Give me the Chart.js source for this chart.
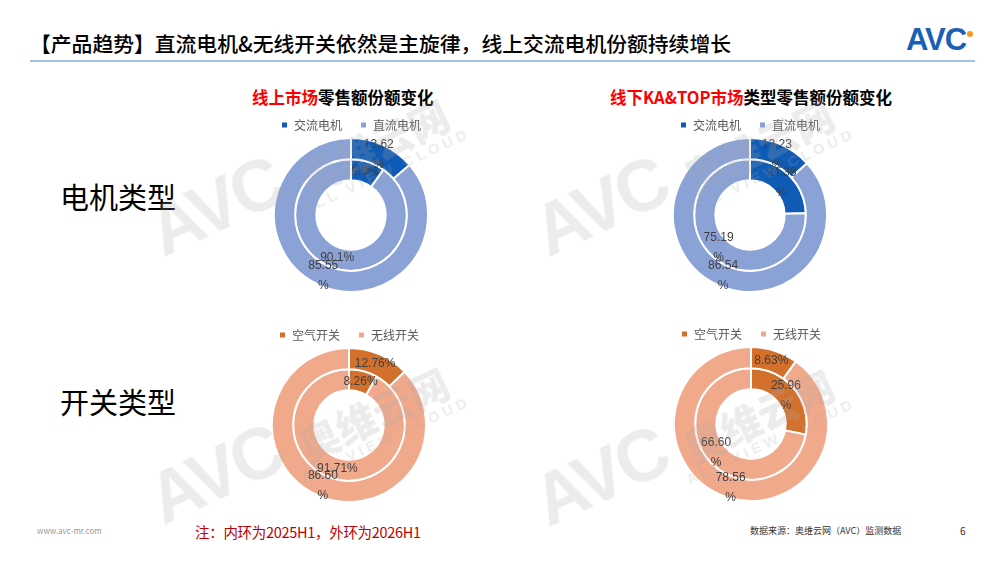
<!DOCTYPE html>
<html>
<head>
<meta charset="utf-8">
<script src="https://cdn.jsdelivr.net/npm/chart.js@4.4.1/dist/chart.umd.min.js"></script>
<style>
  html, body { margin: 0; padding: 0; background: #fff; }
  body { width: 1000px; height: 562px; position: relative; overflow: hidden;
         font-family: "Noto Sans CJK SC", "Noto Sans", sans-serif; }
  .abs { position: absolute; white-space: nowrap; }
  .title { left: 30px; top: 28px; font-size: 20.8px; font-weight: 500; color: #000; }
  .rule { left: 30px; top: 60px; width: 945px; height: 2px; background: #9dc3e6; }
  .logo { left: 906px; top: 22px; font-family: "Liberation Sans", sans-serif; font-size: 31px;
          font-weight: bold; color: #1a5fb4; letter-spacing: -1px; }
  .logo .dot { position: absolute; left: 61px; top: 9px; width: 6px; height: 6px; border-radius: 50%; background: #f39a1e; }
  .sub { font-size: 16.5px; font-weight: bold; color: #000; }
  .sub .red { color: #ff0000; }
  .side { font-size: 29px; color: #000; left: 60px; }
  .chart { position: absolute; }
  .note { left: 195px; top: 521px; font-size: 14.5px; color: #c00000; letter-spacing: -0.3px; }
  .src { left: 750px; top: 524px; font-size: 9px; color: #333; }
  .page { left: 960px; top: 523px; font-size: 10px; color: #333; }
  .web { left: 37px; top: 525px; font-size: 8px; color: #999; }
  .wm { position: absolute; transform: rotate(-25deg); transform-origin: left bottom; color: rgba(170,170,170,0.22);
        pointer-events: none; z-index: 5; white-space: nowrap; }
  .wm .avc { display: inline-block; font-family: "Liberation Sans", sans-serif; font-weight: bold; font-size: 72px;
             letter-spacing: -3px; vertical-align: middle; }
  .wm .side2 { display: inline-block; vertical-align: middle; margin-left: 8px; text-align: center;
               position: relative; top: 20px; }
  .wm .cn { font-size: 40px; font-weight: 900; line-height: 1; }
  .wm .en { font-family: "Liberation Sans", sans-serif; font-weight: bold; font-size: 15px; letter-spacing: 4px; }
</style>
</head>
<body>
<div class="abs title">【产品趋势】直流电机&amp;无线开关依然是主旋律，线上交流电机份额持续增长</div>
<div class="abs rule"></div>
<div class="abs logo">AVC<span class="dot"></span></div>

<div class="abs sub" style="left:252px; top:85px;"><span class="red">线上市场</span>零售额份额变化</div>
<div class="abs sub" style="left:610px; top:85px;"><span class="red">线下KA&amp;TOP市场</span>类型零售额份额变化</div>

<div class="abs side" style="top:175px;">电机类型</div>
<div class="abs side" style="top:380px;">开关类型</div>

<canvas id="c1" class="chart" width="240" height="192" style="left:231px; top:101px;"></canvas>
<canvas id="c2" class="chart" width="240" height="192" style="left:630px; top:101px;"></canvas>
<canvas id="c3" class="chart" width="240" height="192" style="left:229px; top:311px;"></canvas>
<canvas id="c4" class="chart" width="240" height="192" style="left:631px; top:310px;"></canvas>

<div class="abs web">www.avc-mr.com</div>
<div class="abs note">注：内环为2025H1，外环为2026H1</div>
<div class="abs src">数据来源：奥维云网（AVC）监测数据</div>
<div class="abs page">6</div>

<div id="marks"></div>

<script>
// ring data: outer = 2026H1, inner = 2025H1
const motorLabels = ["交流电机", "直流电机"];
const switchLabels = ["空气开关", "无线开关"];

const motorOnline2026 = [13.62, 85.55];
const motorOnline2025 = [9.9, 90.1];
const motorOffline2026 = [13.23, 86.54];
const motorOffline2025 = [24.36, 75.19];

const switchOnline2026 = [12.76, 86.60];
const switchOnline2025 = [8.26, 91.71];
const switchOffline2026 = [8.63, 78.56];
const switchOffline2025 = [25.96, 66.60];

const motorColors = ["#0f5bb5", "#8aa2d6"];
const switchColors = ["#d2702c", "#f1a98b"];

// value label plugin (Excel-style labels sitting in the middle of each slice)
const sliceLabels = {
  id: "sliceLabels",
  afterDatasetsDraw(chart) {
    const ctx = chart.ctx;
    ctx.save();
    ctx.font = "12px 'Liberation Sans', sans-serif";
    ctx.fillStyle = "#404040";
    ctx.textAlign = "center";
    ctx.textBaseline = "middle";
    chart.data.datasets.forEach((ds, di) => {
      const meta = chart.getDatasetMeta(di);
      meta.data.forEach((arc, i) => {
        const pos = arc.tooltipPosition();
        const text = ds.data[i].toFixed(ds.digits) + "%";
        if (ds.wrap[i]) {
          ctx.fillText(text.slice(0, -1), pos.x, pos.y - 10);
          ctx.fillText("%", pos.x, pos.y + 10);
        } else {
          ctx.fillText(text, pos.x, pos.y);
        }
      });
    });
    ctx.restore();
  },
};

// pull the legend a little closer to the ring
const tightLegend = {
  id: "tightLegend",
  beforeLayout(chart) {
    const legend = chart.legend;
    if (!legend || legend._tight) return;
    const fit = legend.fit;
    legend.fit = function() {
      fit.call(this);
      this.height -= 4;
    };
    legend._tight = true;
  },
};

function ring(id, labels, colors, outer, inner, digits, wrapOuter, wrapInner) {
  new Chart(document.getElementById(id), {
    type: "doughnut",
    data: {
      labels,
      datasets: [
        {data: outer, backgroundColor: colors, borderColor: "#fff", borderWidth: 2,
          digits: digits[0], wrap: wrapOuter},
        {data: inner, backgroundColor: colors, borderColor: "#fff", borderWidth: 2,
          digits: digits[1], wrap: wrapInner},
      ],
    },
    options: {
      responsive: false,
      animation: false,
      cutout: "45%",
      layout: {padding: 0},
      plugins: {
        legend: {
          position: "top",
          labels: {
            boxWidth: 7,
            boxHeight: 7,
            padding: 18,
            color: "#595959",
            font: {size: 12, family: "'Noto Sans CJK SC', sans-serif"},
          },
        },
        tooltip: {enabled: false},
      },
    },
    plugins: [tightLegend, sliceLabels],
  });
}

ring("c1", motorLabels, motorColors, motorOnline2026, motorOnline2025, [2, 1], [true, true], [false, false]);
ring("c2", motorLabels, motorColors, motorOffline2026, motorOffline2025, [2, 2], [true, true], [true, true]);
ring("c3", switchLabels, switchColors, switchOnline2026, switchOnline2025, [2, 2], [false, true], [false, false]);
ring("c4", switchLabels, switchColors, switchOffline2026, switchOffline2025, [2, 2], [false, true], [true, true]);

// faint AVC watermarks
const marks = document.getElementById("marks");
[[170, 190], [555, 190], [170, 458], [555, 460]].forEach(([x, y]) => {
  const d = document.createElement("div");
  d.className = "wm";
  d.style.left = x + "px";
  d.style.top = y + "px";
  d.innerHTML = '<span class="avc">AVC</span><span class="side2"><div class="cn">奥维云网</div>' +
    '<div class="en">ALL VIEW CLOUD</div></span>';
  marks.appendChild(d);
});
</script>
</body>
</html>
